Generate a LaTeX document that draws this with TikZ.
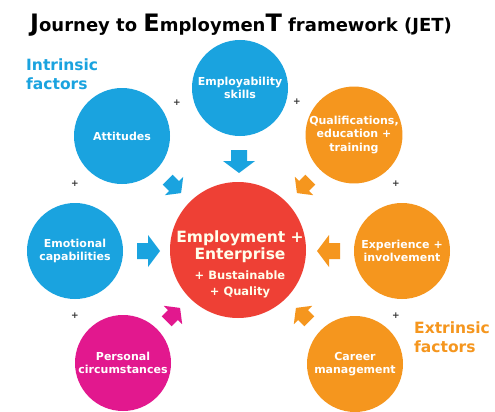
\documentclass[tikz,border=0pt]{standalone}
\usepackage{fontspec}
\setmainfont{DejaVu Sans}
\definecolor{jblue}{HTML}{1AA3DF}
\definecolor{jorange}{HTML}{F5961E}
\definecolor{jred}{HTML}{EE4035}
\definecolor{jmag}{HTML}{E2188E}
\definecolor{jplus}{HTML}{333333}
\tikzset{
  factor/.style={circle, minimum size=96pt, inner sep=0pt, text=white, align=center,
    font=\bfseries\fontsize{11}{13.5}\selectfont},
  plussign/.style={text=jplus, inner sep=0pt, font=\bfseries\fontsize{9}{9}\selectfont},
  sidelabel/.style={align=left, anchor=north west, inner sep=0pt, font=\bfseries\fontsize{15.5}{18.5}\selectfont},
  bigarr/.pic={\path[pic actions] (-11,-8) -- (0,-8) -- (0,-16) -- (12,0) -- (0,16) -- (0,8) -- (-11,8) -- cycle;},
  smallarr/.pic={\path[pic actions] (-9,-7) -- (0,-7) -- (0,-13) -- (10,0) -- (0,13) -- (0,7) -- (-9,7) -- cycle;}
}
\newcommand{\bigsz}{\fontsize{15.5}{18}\selectfont}
\newcommand{\smallsz}{\fontsize{11.5}{17}\selectfont}
\newcommand{\titlebig}{\fontsize{24}{24}\selectfont}
\begin{document}
\begin{tikzpicture}[x=1pt,y=-1pt]
\useasboundingbox[fill=white] (0,0) rectangle (495,412);
% title
\node[anchor=base west, inner sep=0pt] (title) at (30,32)
  {\bfseries\fontsize{18}{18}\selectfont{\titlebig J}ourney to {\titlebig E}mploymen{\titlebig T} framework (JET)};
% side labels
\node[sidelabel, text=jblue] (intr) at (26,59) {Intrinsic\\factors};
\node[sidelabel, text=jorange] (extr) at (414,322) {Extrinsic\\factors};
% circles
\node[factor, fill=jblue] (skills) at (240,88) {Employability\\skills};
\node[factor, fill=jblue] (att) at (122,136) {Attitudes};
\node[factor, fill=jorange] (qual) at (354,135) {Qualifications,\\education +\\training};
\node[factor, fill=jblue] (emo) at (75,251) {Emotional\\capabilities};
\node[factor, fill=jorange] (exp) at (402,251) {Experience +\\involvement};
\node[factor, fill=jmag] (pers) at (123,363) {Personal\\circumstances};
\node[factor, fill=jorange] (car) at (355,364) {Career\\management};
\node[circle, fill=jred, minimum size=136pt, inner sep=0pt] (emp) at (238,250) {};
\node[align=center, inner sep=0pt, text=white!92!yellow, font=\bfseries] (emptext) at (240,264)
  {\bigsz Employment +\\[1pt]\bigsz Enterprise\\[8pt]\smallsz + Bustainable\\[4pt]\smallsz + Quality};
% plus signs
\node[plussign] (p1) at (177,103) {+};
\node[plussign] (p2) at (297,102) {+};
\node[plussign] (p3) at (75,184) {+};
\node[plussign] (p4) at (396,184) {+};
\node[plussign] (p5) at (75,316) {+};
\node[plussign] (p6) at (396,316) {+};
% block arrows
\pic[fill=jblue, rotate=-90] at (239,161) {bigarr};
\pic[fill=jblue, rotate=-45] at (174,186) {smallarr};
\pic[fill=jorange, rotate=-135] at (304,186) {smallarr};
\pic[fill=jblue] at (148,251) {bigarr};
\pic[fill=jorange, rotate=180] at (329,251) {bigarr};
\pic[fill=jmag, rotate=45] at (173,315) {smallarr};
\pic[fill=jorange, rotate=135] at (303,315) {smallarr};
\end{tikzpicture}
\end{document}
